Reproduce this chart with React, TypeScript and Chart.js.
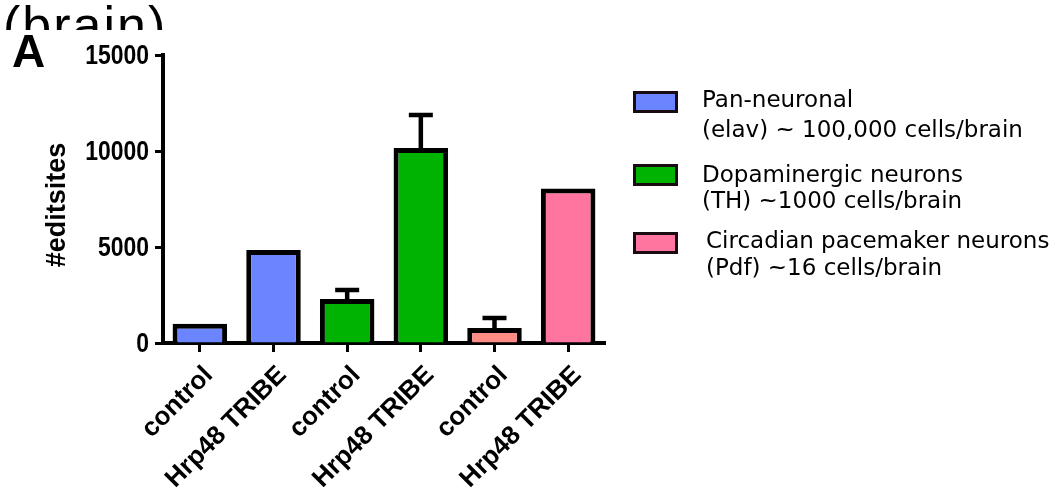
import React, { useEffect, useRef } from "react";
import { Chart, registerables } from "chart.js";

Chart.register(...registerables);

// Edit-site counts per driver line (control vs Hrp48 TRIBE)
const categories = ["control", "Hrp48 TRIBE", "control", "Hrp48 TRIBE", "control", "Hrp48 TRIBE"];
const editSites = [1000, 4850, 2290, 10150, 780, 8050];
const errorUpper = [0, 0, 470, 1725, 520, 0];
const barColors = ["#6b84ff", "#6b84ff", "#00b300", "#00b300", "#ff8b85", "#ff75a0"];
const yTicks = [0, 5000, 10000, 15000];
const yTitle = "#editsites";

// Legend entries: swatch colour and two text lines each
const legendColors = ["#6b84ff", "#00b300", "#ff75a0"];
const legendFirstLines = ["Pan-neuronal", "Dopaminergic neurons", "Circadian pacemaker neurons"];
const legendSecondLines = ["(elav) ~ 100,000 cells/brain", "(TH) ~1000 cells/brain", "(Pdf) ~16 cells/brain"];

const SANS = "'Liberation Sans', Arial, sans-serif";

const errorBarPlugin = {
  id: "errorBars",
  afterDatasetsDraw(chart: any) {
    const { ctx } = chart;
    const meta = chart.getDatasetMeta(0);
    const yScale = chart.scales.y;
    ctx.save();
    ctx.strokeStyle = "#000";
    ctx.lineWidth = 4.5;
    meta.data.forEach((bar: any, i: number) => {
      const err = errorUpper[i];
      if (!err) return;
      const x = bar.x;
      const yTop = yScale.getPixelForValue(editSites[i] + err);
      ctx.beginPath();
      ctx.moveTo(x, bar.y);
      ctx.lineTo(x, yTop);
      ctx.moveTo(x - 12, yTop);
      ctx.lineTo(x + 12, yTop);
      ctx.stroke();
    });
    ctx.restore();
  },
};

// Condensed y tick labels and rotated axis title
const yLabelPlugin = {
  id: "yLabels",
  afterDraw(chart: any) {
    const { ctx, chartArea } = chart;
    const yScale = chart.scales.y;
    ctx.save();
    ctx.fillStyle = "#000";
    ctx.font = `bold 28px ${SANS}`;
    ctx.textAlign = "right";
    ctx.textBaseline = "middle";
    yScale.ticks.forEach((t: any) => {
      const y = yScale.getPixelForValue(t.value);
      ctx.save();
      ctx.translate(chartArea.left - 14, y + 1);
      ctx.scale(0.82, 1);
      ctx.fillText(String(t.value), 0, 0);
      ctx.restore();
    });
    ctx.font = `bold 27px ${SANS}`;
    ctx.textAlign = "center";
    ctx.translate(58, (chartArea.top + chartArea.bottom) / 2 + 6);
    ctx.rotate(-Math.PI / 2);
    ctx.fillText(yTitle, 0, 0);
    ctx.restore();
  },
};

const decorPlugin = {
  id: "decor",
  afterDraw(chart: any) {
    const { ctx } = chart;
    ctx.save();
    ctx.fillStyle = "#000";
    ctx.textAlign = "left";
    ctx.textBaseline = "alphabetic";

    // heading remnant, cut off along its lower edge
    ctx.save();
    ctx.beginPath();
    ctx.rect(0, 0, 220, 30);
    ctx.clip();
    ctx.font = `52px ${SANS}`;
    let x = 3;
    for (const ch of "(brain)") {
      ctx.fillText(ch, x, 43);
      x += ctx.measureText(ch).width + 2;
    }
    ctx.restore();

    // panel letter
    ctx.font = `bold 46px ${SANS}`;
    ctx.fillText("A", 12, 67);

    // legend
    const boxTops = [91, 164, 232];
    const textX = [702, 702, 706];
    const base1 = [107, 182, 248];
    const base2 = [137, 208, 275];
    ctx.font = "23px 'DejaVu Sans', Verdana, sans-serif";
    for (let i = 0; i < legendColors.length; i++) {
      ctx.fillStyle = legendColors[i];
      ctx.fillRect(633, boxTops[i], 45, 22);
      ctx.strokeStyle = "#1a0a12";
      ctx.lineWidth = 3;
      ctx.strokeRect(634.5, boxTops[i] + 1.5, 42, 19);
      ctx.fillStyle = "#000";
      ctx.fillText(legendFirstLines[i], textX[i], base1[i]);
      ctx.fillText(legendSecondLines[i], textX[i], base2[i]);
    }
    ctx.restore();
  },
};

export default function App() {
  const canvasRef = useRef<HTMLCanvasElement | null>(null);

  useEffect(() => {
    document.body.style.margin = "0";
    const canvas = canvasRef.current;
    if (!canvas) return;
    const chart = new Chart(canvas, {
      type: "bar",
      data: {
        labels: categories,
        datasets: [
          {
            data: editSites,
            backgroundColor: barColors,
            borderColor: "#000",
            borderWidth: 5,
            barPercentage: 0.74,
            categoryPercentage: 1,
          },
        ],
      },
      options: {
        responsive: false,
        animation: false,
        devicePixelRatio: 1,
        layout: { padding: { left: 0, top: 55, right: 457, bottom: 0 } },
        plugins: {
          legend: { display: false },
          tooltip: { enabled: false },
        },
        scales: {
          x: {
            z: 1,
            offset: true,
            afterFit: (scale: any) => {
              scale.height = 147;
            },
            grid: {
              display: true,
              offset: false,
              drawOnChartArea: false,
              drawTicks: true,
              tickLength: 9,
              tickWidth: 3,
              tickColor: "#000",
              color: "#000",
            },
            border: { display: true, color: "#000", width: 4 },
            ticks: {
              autoSkip: false,
              minRotation: 45,
              maxRotation: 45,
              padding: 8,
              labelOffset: 9,
              color: "#000",
              font: { family: SANS, weight: "bold", size: 26 },
            },
          },
          y: {
            min: 0,
            max: 15000,
            afterBuildTicks: (scale: any) => {
              scale.ticks = yTicks.map((v) => ({ value: v }));
            },
            afterFit: (scale: any) => {
              scale.width = 163;
            },
            grid: {
              display: true,
              drawOnChartArea: false,
              drawTicks: true,
              tickLength: 8,
              tickWidth: 3,
              tickColor: "#000",
              color: "#000",
            },
            border: { display: true, color: "#000", width: 4 },
            title: { display: false },
            ticks: { display: false },
          },
        },
      },
      plugins: [errorBarPlugin, yLabelPlugin, decorPlugin],
    });
    return () => chart.destroy();
  }, []);

  return (
    <div style={{ width: 1062, height: 490, background: "#fff" }}>
      <canvas ref={canvasRef} width={1062} height={490} style={{ display: "block" }} />
    </div>
  );
}
